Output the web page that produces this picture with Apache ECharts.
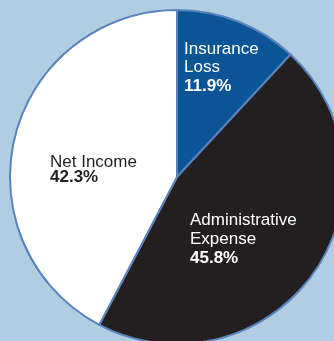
<!DOCTYPE html>
<html>
<head>
<meta charset="utf-8">
<script src="https://cdn.jsdelivr.net/npm/echarts@6/dist/echarts.min.js"></script>
<style>
  html, body { margin: 0; padding: 0; background: #b0cde2; }
  #chart { width: 334px; height: 341px; }
</style>
</head>
<body>
<div id="chart"></div>
<script>
// Expense breakdown, shares in percent
const categories = ['Insurance Loss', 'Administrative Expense', 'Net Income'];
const labelLines = [['Insurance', 'Loss'], ['Administrative', 'Expense'], ['Net Income']];
const shares = [11.9, 45.8, 42.3];
const sliceColors = ['#0b5596', '#231f20', '#ffffff'];
// top-left anchor and line spacing of each slice's label block
const labelAnchors = [[184, 40], [190, 211], [50, 155]];
const labelLineHeights = [18.5, 19, 15];

const FONT = "'Liberation Sans', Arial, sans-serif";

const chart = echarts.init(document.getElementById('chart'));
chart.setOption({
  backgroundColor: '#b0cde2',
  animation: false,
  series: [{
    type: 'pie',
    center: [177, 177],
    radius: 167,
    startAngle: 90,
    clockwise: true,
    silent: true,
    itemStyle: { borderColor: '#5883bd', borderWidth: 2 },
    data: categories.map(function (c, i) {
      const lh = labelLineHeights[i];
      return {
        name: c,
        value: shares[i],
        itemStyle: { color: sliceColors[i] },
        label: {
          show: true,
          position: 'inside',
          color: i === 2 ? '#231f20' : '#ffffff',
          fontFamily: FONT,
          formatter: labelLines[i].map(function (t) { return '{n|' + t + '}'; }).join('\n') +
            '\n{v|' + shares[i].toFixed(1) + '%}',
          rich: {
            n: { fontFamily: FONT, fontSize: 17, lineHeight: lh },
            v: { fontFamily: FONT, fontSize: 17, fontWeight: 'bold', lineHeight: lh }
          }
        }
      };
    }),
    labelLayout: function (p) {
      const a = labelAnchors[p.dataIndex];
      return { x: a[0], y: a[1], align: 'left', verticalAlign: 'top' };
    }
  }]
});
</script>
</body>
</html>
